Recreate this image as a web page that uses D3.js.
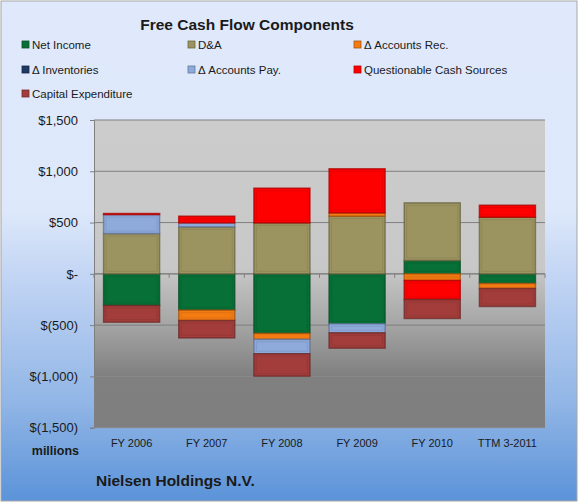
<!DOCTYPE html>
<html><head><meta charset="utf-8">
<script src="https://cdn.jsdelivr.net/npm/d3@7"></script>
<style>body{margin:0;background:#fff}svg{display:block;font-family:"Liberation Sans",Arial,sans-serif}</style>
</head><body>
<svg id="chart" width="578" height="502"></svg>
<script>
const categories = ["FY 2006","FY 2007","FY 2008","FY 2009","FY 2010","TTM 3-2011"];
const seriesNames = ["Net Income","D&A","\u0394 Accounts Rec.","\u0394 Inventories","\u0394 Accounts Pay.","Questionable Cash Sources","Capital Expenditure"];
const netIncome    = [-309, -354, -581, -487, 130, -94];
const depAmort     = [393, 458, 497, 562, 562, 552];
const acctRec      = [0, -101, -58, 33, -65, -49];
const inventories  = [0, 0, 0, 0, 0, 0];
const acctPay      = [185, 39, -140, -88, 0, 0];
const questionable = [10, 65, 338, 429, -185, 117];
const capex        = [-162, -169, -218, -149, -185, -175];
const yTicks = [-1500, -1000, -500, 0, 500, 1000, 1500];
const colors = ["#077036","#9c9460","#f47b12","#1f3864","#8eaadb","#ff0000","#a33d3b"];

const seriesValues = [netIncome, depAmort, acctRec, inventories, acctPay, questionable, capex];
const rows = categories.map((c, i) => {
  const r = {cat: c};
  seriesNames.forEach((s, j) => r[s] = seriesValues[j][i]);
  return r;
});

const svg = d3.select("#chart");
const defs = svg.append("defs");
const bg = defs.append("linearGradient").attr("id","bg").attr("x1",0).attr("y1",0).attr("x2",0).attr("y2",1);
[[0,"#dfe9fb"],[0.42,"#dde8fa"],[0.55,"#c2d5f4"],[0.8,"#92b6e6"],[1,"#5b93d9"]].forEach(d=>bg.append("stop").attr("offset",d[0]).attr("stop-color",d[1]));
const pg = defs.append("linearGradient").attr("id","pg").attr("x1",0).attr("y1",0).attr("x2",0).attr("y2",1);
[[0,"#cccccc"],[0.48,"#c8c8c8"],[0.66,"#a6a6a6"],[0.83,"#808080"],[1,"#7f7f7f"]].forEach(d=>pg.append("stop").attr("offset",d[0]).attr("stop-color",d[1]));

svg.append("rect").attr("x",1).attr("y",1).attr("width",576).attr("height",500).attr("fill","url(#bg)").attr("stroke","#a6a6a6").attr("stroke-width",1);

const m = {left:94, right:545, top:120, bottom:427.7};
const x = d3.scaleBand().domain(categories).range([m.left, m.right]).paddingInner(0.255).paddingOuter(0.1275);
const y = d3.scaleLinear().domain([-1500,1500]).range([m.bottom, m.top]);

svg.append("rect").attr("x",m.left).attr("y",m.top).attr("width",m.right-m.left).attr("height",m.bottom-m.top).attr("fill","url(#pg)");

svg.append("g").selectAll("line").data(yTicks).join("line")
  .attr("x1",m.left).attr("x2",m.right).attr("y1",d=>y(d)).attr("y2",d=>y(d))
  .attr("stroke",d=>d<=-1000?"#8a8a8a":"#7f7f7f").attr("stroke-width",1);

const fmt = v => v === 0 ? "$-" : (v < 0 ? "$(" + d3.format(",")(-v) + ")" : "$" + d3.format(",")(v));
const yAxis = d3.axisLeft(y).tickValues(yTicks).tickFormat(fmt).tickSize(4).tickPadding(12);
const ya = svg.append("g").attr("transform",`translate(${m.left},0)`).call(yAxis);
ya.select(".domain").attr("stroke","#7f7f7f");
ya.selectAll(".tick line").attr("stroke","#7f7f7f");
ya.selectAll("text").attr("font-size",13).attr("fill","#1a1a1a");

const step = x.step();
const bounds = d3.range(categories.length+1).map(i => m.left + i*step);
svg.append("g").selectAll("line").data(bounds).join("line")
  .attr("x1",d=>d).attr("x2",d=>d).attr("y1",y(0)).attr("y2",y(0)+4)
  .attr("stroke","#7f7f7f");
svg.append("line").attr("x1",m.left).attr("x2",m.right).attr("y1",y(0)).attr("y2",y(0)).attr("stroke","#7f7f7f");

const stack = d3.stack().keys(seriesNames).offset(d3.stackOffsetDiverging);
const layers = stack(rows);
const g = svg.append("g");
layers.forEach((layer, j) => {
  const col = colors[j];
  const dark = d3.color(col).darker(1.1).formatHex();
  const grp = g.append("g");
  const items = layer.map((d,i)=>({d, cat: categories[i]})).filter(o => o.d[1] !== o.d[0]);
  grp.selectAll("rect.b").data(items).join("rect").attr("class","b")
    .attr("x",o=>x(o.cat)).attr("width",x.bandwidth())
    .attr("y",o=>y(Math.max(o.d[0],o.d[1]))).attr("height",o=>Math.abs(y(o.d[0])-y(o.d[1])))
    .attr("fill",col).attr("stroke",dark).attr("stroke-width",1.5).attr("stroke-opacity",0.75);
  grp.selectAll("rect.h").data(items.filter(o=>Math.abs(y(o.d[0])-y(o.d[1]))>6)).join("rect").attr("class","h")
    .attr("x",o=>x(o.cat)+2.5).attr("width",x.bandwidth()-5)
    .attr("y",o=>y(Math.max(o.d[0],o.d[1]))+2.5).attr("height",o=>Math.abs(y(o.d[0])-y(o.d[1]))-5)
    .attr("fill","none").attr("stroke",d3.color(col).darker(0.4).formatHex()).attr("stroke-width",1).attr("stroke-opacity",0.6);
});

svg.append("g").selectAll("text").data(categories).join("text")
  .attr("x",d=>x(d)+x.bandwidth()/2).attr("y",447).attr("text-anchor","middle")
  .attr("font-size",11).attr("fill","#1a1a1a").text(d=>d);

svg.append("text").attr("x",247).attr("y",30).attr("text-anchor","middle").attr("font-size",15.5).attr("font-weight","bold").attr("fill","#1a1a1a").text("Free Cash Flow Components");
svg.append("text").attr("x",79).attr("y",455).attr("text-anchor","end").attr("font-size",12.5).attr("font-weight","bold").attr("fill","#1a1a1a").text("millions");
svg.append("text").attr("x",96).attr("y",486).attr("font-size",15.5).attr("font-weight","bold").attr("fill","#1a1a1a").text("Nielsen Holdings N.V.");

const legX = [22, 188, 354], legY = [45, 70, 94];
const leg = svg.append("g");
seriesNames.forEach((s, j) => {
  const lx = legX[j%3], ly = legY[Math.floor(j/3)];
  leg.append("rect").attr("x",lx).attr("y",ly-4).attr("width",7).attr("height",7).attr("fill",colors[j]).attr("stroke",d3.color(colors[j]).darker(1).formatHex()).attr("stroke-width",0.8);
  leg.append("text").attr("x",lx+10).attr("y",ly+4).attr("font-size",11.5).attr("fill","#1a1a1a").text(s);
});
</script>
</body></html>
